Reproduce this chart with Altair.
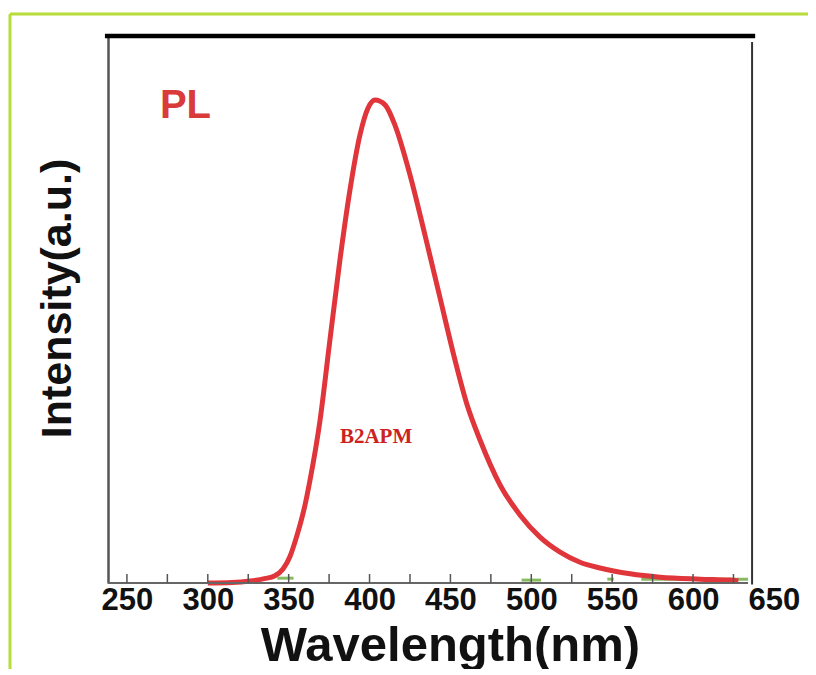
import altair as alt
import pandas as pd

# PL spectrum (red)
wavelength = [300, 315, 326, 335, 341.5, 346.5, 350.8, 355, 360, 363.2, 369.4, 375.5,
              381.7, 387.9, 394.1, 399, 403.4, 409.6, 415.7, 425, 434.3, 443.6, 452.8,
              460.3, 468.3, 480.7, 493, 505.4, 517.8, 530.1, 542.5, 561.1, 579.6, 604.4,
              622.9, 628]
intensity = [0.0, 0.001, 0.004, 0.009, 0.015, 0.029, 0.055, 0.097, 0.16, 0.213, 0.337, 0.503,
             0.669, 0.814, 0.928, 0.983, 1.0, 0.99, 0.948, 0.845, 0.72, 0.59, 0.462,
             0.369, 0.296, 0.203, 0.141, 0.095, 0.064, 0.043, 0.031, 0.019, 0.012, 0.008,
             0.006, 0.004]

# faint green trace fragments near the baseline
green_wl = [343, 353, 494, 506, 547, 551, 568, 634]
green_int = [0.01, 0.01, 0.006, 0.006, 0.008, 0.008, 0.008, 0.008]
green_seg = [1, 1, 2, 2, 3, 3, 4, 4]

tick_values = [250, 275, 300, 325, 350, 375, 400, 425, 450, 475, 500, 525, 550, 575, 600, 625]
label_values = [250, 300, 350, 400, 450, 500, 550, 600, 650]

annotations = ["PL", "B2APM"]
annot_wl = [270.4, 381.7]
annot_int = [0.963, 0.29]

X_DOMAIN = [238.3, 655]
Y_DOMAIN = [0, 1.1325]
TICK_LEN = 0.0186

xs = alt.Scale(domain=X_DOMAIN, nice=False, zero=False)
ys = alt.Scale(domain=Y_DOMAIN, nice=False, zero=False)

spec_df = pd.DataFrame({"wl": wavelength, "I": intensity})
green_df = pd.DataFrame({"wl": green_wl, "I": green_int, "seg": green_seg})
ticks_df = pd.DataFrame({"wl": tick_values, "I": [0.0] * len(tick_values),
                         "y1": [TICK_LEN] * len(tick_values)})

x_axis = alt.Axis(values=label_values, ticks=False, domain=False, grid=False,
                  labelFont="Liberation Sans", labelFontSize=31, labelFontWeight="bold",
                  labelColor="#111111", labelPadding=2, labelFlush=False, labelOverlap=False,
                  title="Wavelength(nm)", titleFont="Liberation Sans", titleFontSize=49,
                  titleFontWeight="bold", titleColor="#111111", titleX=342, titleY=77,
                  titleBaseline="alphabetic", titleAlign="center")
y_axis = alt.Axis(labels=False, ticks=False, grid=False, domain=True,
                  domainColor="#555555", domainWidth=2.5,
                  title="Intensity(a.u.)", titleFont="Liberation Sans", titleFontSize=43,
                  titleFontWeight="bold", titleColor="#111111", titleX=-38, titleY=262,
                  titleAngle=270, titleBaseline="alphabetic", titleAlign="center")


def X(field):
    return alt.X(field, scale=xs, axis=x_axis)


def Y(field):
    return alt.Y(field, scale=ys, axis=y_axis)


green = alt.Chart(green_df).mark_line(color="#6aaa3a", strokeWidth=3, opacity=0.8).encode(
    x=X("wl:Q"), y=Y("I:Q"), detail="seg:N")

red = alt.Chart(spec_df).mark_line(color="#e0353a", strokeWidth=5,
                                   interpolate="monotone").encode(x=X("wl:Q"), y=Y("I:Q"))

# frame pieces
top_df = pd.DataFrame({"wl": [236.4], "b": [638.4], "I": [Y_DOMAIN[1]]})
top_line = alt.Chart(top_df).mark_rule(color="black", strokeWidth=4.5).encode(
    x=X("wl:Q"), x2="b:Q", y=Y("I:Q"))

right_df = pd.DataFrame({"wl": [636.5], "I": [-0.003], "y1": [1.12]})
right_line = alt.Chart(right_df).mark_rule(color="#333333", strokeWidth=2).encode(
    x=X("wl:Q"), y=Y("I:Q"), y2="y1:Q")

bottom_df = pd.DataFrame({"wl": [238.3], "b": [634], "I": [0.0]})
bottom_line = alt.Chart(bottom_df).mark_rule(color="#666666", strokeWidth=2).encode(
    x=X("wl:Q"), x2="b:Q", y=Y("I:Q"))

ticks = alt.Chart(ticks_df).mark_rule(color="#555555", strokeWidth=1.5).encode(
    x=X("wl:Q"), y=Y("I:Q"), y2="y1:Q")

# outer lime border of the picture
lime = "#b8dc3a"
border_h = pd.DataFrame({"wl": [177.7], "b": [680], "I": [1.178]})
border_v = pd.DataFrame({"wl": [177.7], "I": [-0.2], "y1": [1.178]})
bh = alt.Chart(border_h).mark_rule(color=lime, strokeWidth=3).encode(
    x=X("wl:Q"), x2="b:Q", y=Y("I:Q"))
bv = alt.Chart(border_v).mark_rule(color=lime, strokeWidth=3).encode(
    x=X("wl:Q"), y=Y("I:Q"), y2="y1:Q")

pl_df = pd.DataFrame({"t": [annotations[0]], "wl": [annot_wl[0]], "I": [annot_int[0]]})
pl_text = alt.Chart(pl_df).mark_text(align="left", baseline="alphabetic", font="Liberation Sans",
                                     fontSize=40, fontWeight="bold", color="#d93a3a").encode(
    x=X("wl:Q"), y=Y("I:Q"), text="t:N")

b_df = pd.DataFrame({"t": [annotations[1]], "wl": [annot_wl[1]], "I": [annot_int[1]]})
b_text = alt.Chart(b_df).mark_text(align="left", baseline="alphabetic", font="Liberation Serif",
                                   fontSize=21, fontWeight="bold", color="#cc2222").encode(
    x=X("wl:Q"), y=Y("I:Q"), text="t:N")

chart = alt.layer(
    green, red, bottom_line, ticks, right_line, top_line, bh, bv, pl_text, b_text
).properties(
    width=674, height=547,
    padding={"left": 100, "top": 28, "right": 26, "bottom": 86},
    autosize=alt.AutoSizeParams(type="none"),
    background="white",
).configure_view(stroke="transparent")

chart.save("out.html", embed_options={"renderer": "svg", "actions": False})
